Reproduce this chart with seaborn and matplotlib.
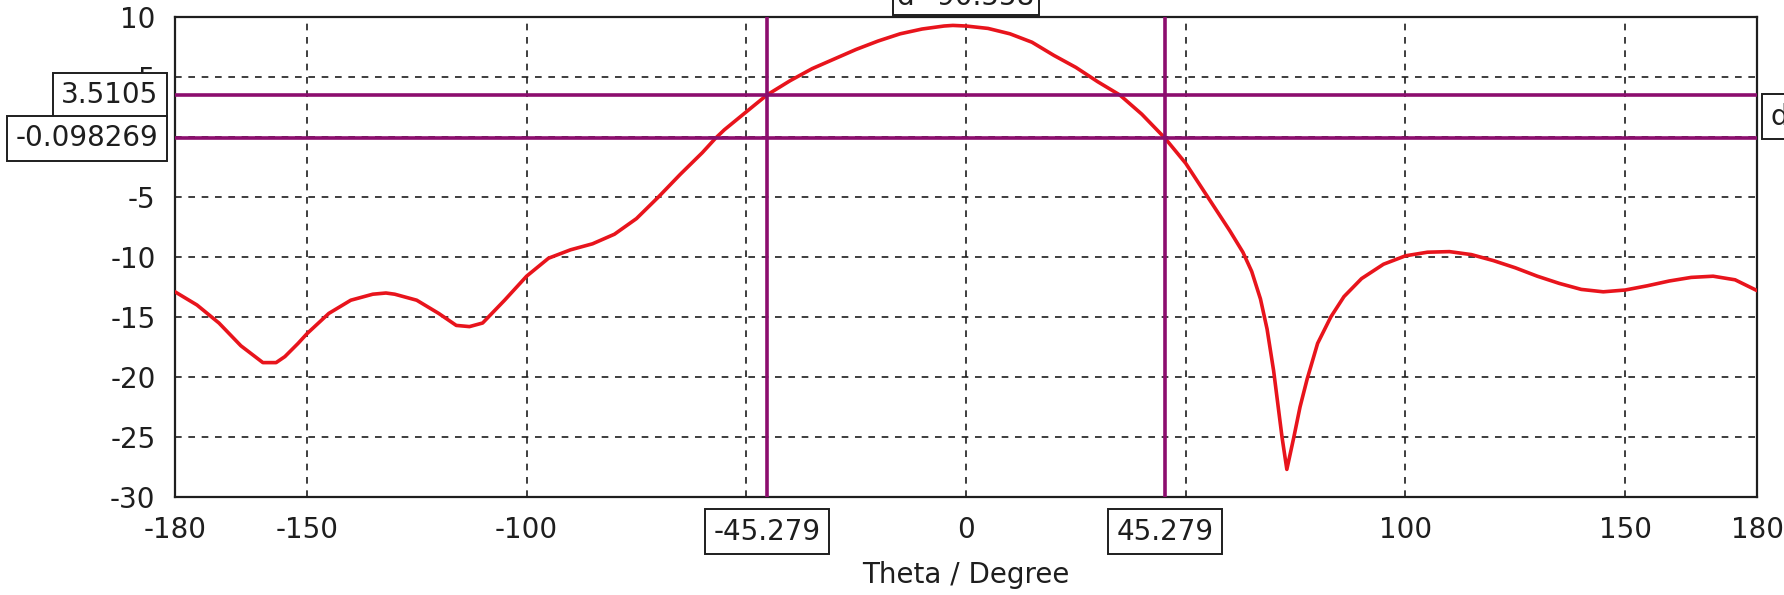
# Diagramme de rayonnement (coupe en Theta) avec marqueurs -3 dB
import matplotlib
matplotlib.use("Agg")
import matplotlib.pyplot as plt
import seaborn as sns
import pandas as pd

# Données
theta = [-180, -175, -170, -165, -160, -157, -155, -152, -150, -145, -140, -135,
         -132, -130, -125, -120, -116, -113, -110, -105, -100, -95, -90, -85,
         -80, -75, -70, -65, -60, -57, -55, -50, -45.279, -40, -35, -30, -25,
         -20, -15, -10, -5, -3, 0, 5, 10, 15, 20, 25, 30, 35, 40, 45.279, 50,
         55, 60, 63, 65, 67, 68.5, 70, 71.9, 73, 74.6, 76, 77.6, 80, 83, 86,
         90, 95, 100, 105, 110, 115, 120, 125, 130, 135, 140, 145, 150, 155,
         160, 165, 170, 175, 180]
gain = [-12.9, -14.0, -15.5, -17.4, -18.8, -18.8, -18.3, -17.2, -16.4, -14.7,
        -13.6, -13.1, -13.0, -13.1, -13.6, -14.7, -15.7, -15.8, -15.5, -13.6,
        -11.6, -10.1, -9.4, -8.9, -8.1, -6.8, -5.0, -3.1, -1.3, -0.1, 0.6, 2.1,
        3.51, 4.7, 5.7, 6.5, 7.3, 8.0, 8.6, 9.0, 9.25, 9.3, 9.25, 9.05, 8.6,
        7.9, 6.8, 5.8, 4.6, 3.5, 1.9, -0.1, -2.2, -5.0, -7.8, -9.6, -11.2,
        -13.5, -16.0, -19.5, -25.0, -27.7, -25.0, -22.5, -20.2, -17.2, -15.0,
        -13.3, -11.8, -10.6, -9.9, -9.6, -9.55, -9.8, -10.3, -10.9, -11.6,
        -12.2, -12.7, -12.9, -12.75, -12.4, -12.0, -11.7, -11.6, -11.9, -12.8]

# Marqueurs
marker_theta = [-45.279, 45.279]
marker_level = [3.5105, -0.098269]
marker_theta_labels = ["-45.279", "45.279"]
marker_level_labels = ["3.5105", "-0.098269"]
delta_theta_label = "d=90.558"
delta_level_label = "d=3.6088"

x_ticks = [-180, -150, -100, -50, 0, 50, 100, 150, 180]
x_tick_labels = ["-180", "-150", "-100", "", "0", "", "100", "150", "180"]
y_ticks = [10, 5, 0, -5, -10, -15, -20, -25, -30]
y_tick_labels = ["10", "5", "", "-5", "-10", "-15", "-20", "-25", "-30"]

sns.set_style("white")
plt.rcParams["font.family"] = ["DejaVu Sans"]

fs = 20
ink = "#1e1e1e"
df = pd.DataFrame({"theta": theta, "gain": gain})

fig = plt.figure(figsize=(17.84, 5.95), dpi=100)
ax = fig.add_axes([0.0981, 0.1647, 0.8868, 0.8067])

sns.lineplot(data=df, x="theta", y="gain", color="#e8141c", linewidth=2.6,
             ax=ax, zorder=3)

purple = "#8c0e6e"
for t in marker_theta:
    ax.axvline(t, color=purple, linewidth=2.6, zorder=4)
for v in marker_level:
    ax.axhline(v, color=purple, linewidth=2.6, zorder=4)

ax.set_xlim(-180, 180)
ax.set_ylim(-30, 10)
ax.set_xticks(x_ticks)
ax.set_xticklabels(x_tick_labels)
ax.set_yticks(y_ticks)
ax.set_yticklabels(y_tick_labels)
ax.tick_params(direction="inout", length=12, width=1.5, labelsize=fs,
               colors=ink)
ax.tick_params(axis="y", pad=8)
ax.tick_params(axis="x", pad=8)

ax.grid(True, color=ink, linestyle=(0, (4, 4)), linewidth=1.2, zorder=1)
for s in ax.spines.values():
    s.set_color(ink)
    s.set_linewidth(1.6)
    s.set_visible(True)

ax.set_xlabel("Theta / Degree", fontsize=fs, color=ink, labelpad=12)
ax.set_ylabel("")

box = dict(boxstyle="square,pad=0.3", fc="white", ec=ink, lw=1.4)

# Étiquettes des marqueurs horizontaux (à gauche)
for v, lab in zip(marker_level, marker_level_labels):
    ax.annotate(lab, xy=(0, v), xycoords=("axes fraction", "data"),
                xytext=(-12, 0), textcoords="offset points", ha="right",
                va="center", fontsize=fs, color=ink, bbox=box,
                zorder=6, annotation_clip=False)

# Étiquettes des marqueurs verticaux (en bas)
for t, lab in zip(marker_theta, marker_theta_labels):
    ax.annotate(lab, xy=(t, 0), xycoords=("data", "axes fraction"),
                xytext=(0, -25), textcoords="offset points", ha="center",
                va="center", fontsize=fs, color=ink, bbox=box,
                zorder=6, annotation_clip=False)

# Écarts (coupés par le bord de l'image)
top_box = dict(boxstyle="square,pad=0.15", fc="white", ec=ink, lw=1.4)
ax.annotate(delta_theta_label, xy=(0, 1), xycoords=("data", "axes fraction"),
            xytext=(0, 8.6), textcoords="offset points", ha="center",
            va="baseline", fontsize=fs, color=ink, bbox=top_box,
            zorder=6, annotation_clip=False)
ax.annotate(delta_level_label, xy=(1, sum(marker_level) / 2),
            xycoords=("axes fraction", "data"), xytext=(9.7, 0),
            textcoords="offset points", ha="left", va="center", fontsize=fs,
            color=ink, bbox=box, zorder=6, annotation_clip=False)

fig.savefig("out.png", dpi=100)
